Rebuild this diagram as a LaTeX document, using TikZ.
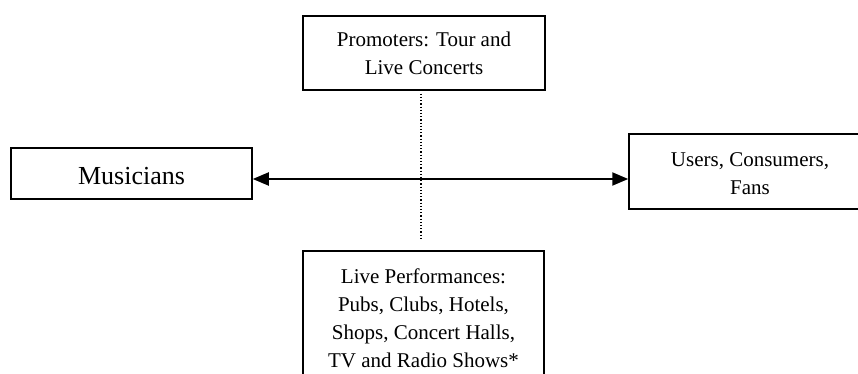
\documentclass[tikz,border=0pt]{standalone}
\usepackage{fontspec}
\setmainfont{Liberation Serif}
\usetikzlibrary{arrows.meta}
% Boxed text panel: width, height, gap above the first line, text
\newcommand\mkpanel[4]{\parbox[c][#2][t]{#1}{\centering\vspace*{#3}\strut#4}}
\tikzset{
  box/.style={draw=black, line width=1.5pt, fill=white, inner sep=0pt,
    font=\fontsize{21}{28}\selectfont},
  bigbox/.style={box, font=\fontsize{26}{30}\selectfont},
  link/.style={line width=2pt, {Triangle[length=16pt,width=13pt]}-{Triangle[length=16pt,width=13pt]}},
  tie/.style={line width=1.2pt, dash pattern=on 1.2pt off 2pt}
}
\begin{document}
\begin{tikzpicture}[x=1pt,y=-1pt]
  \clip (0,0) rectangle (858,374);
  \fill[white] (0,0) rectangle (858,374);

  \node[box] (prom) at (424,53)
    {\mkpanel{242pt}{74pt}{11.4pt}{Promoters: Tour and\\Live Concerts}};
  \node[bigbox] (mus) at (131.5,173.5)
    {\mkpanel{241pt}{51pt}{15pt}{Musicians}};
  \node[box] (fans) at (750,171.5)
    {\mkpanel{242pt}{75pt}{13.4pt}{Users, Consumers,\\Fans}};
  \node[box] (live) at (423.5,316)
    {\mkpanel{241pt}{130pt}{12.4pt}{Live Performances:\\Pubs, Clubs, Hotels,\\Shops, Concert Halls,\\TV and Radio Shows*}};

  \coordinate (lane) at (0,179);
  \draw[link] (mus.east |- lane) -- (fans.west |- lane);

  \draw[tie, shorten <=3pt, shorten >=10pt]
    ([xshift=-3pt]prom.south) -- ([xshift=-2.5pt]live.north);
\end{tikzpicture}
\end{document}
